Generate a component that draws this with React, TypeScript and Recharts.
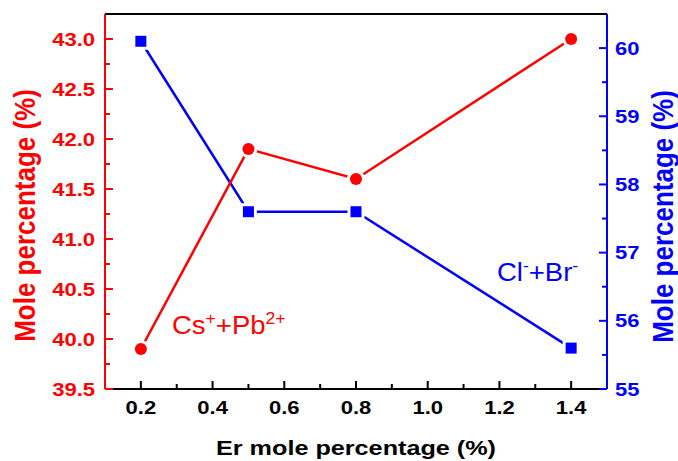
import React from 'react';
import { LineChart, Line, XAxis, YAxis, ReferenceLine } from 'recharts';

const erPercent = [0.2, 0.5, 0.8, 1.4];
const csPbValues = [39.9, 41.9, 41.6, 43.0];
const clBrValues = [60.1, 57.6, 57.6, 55.6];

const xMajorTicks = [0.2, 0.4, 0.6, 0.8, 1.0, 1.2, 1.4];
const xMinorTicks = [0.3, 0.5, 0.7, 0.9, 1.1, 1.3];
const leftMajorTicks = [39.5, 40.0, 40.5, 41.0, 41.5, 42.0, 42.5, 43.0];
const leftMinorTicks = [39.75, 40.25, 40.75, 41.25, 41.75, 42.25, 42.75];
const rightMajorTicks = [55, 56, 57, 58, 59, 60];
const rightMinorTicks = [55.5, 56.5, 57.5, 58.5, 59.5];

const xDomain = [0.1, 1.5];
const leftDomain = [39.5, 43.25];
const rightDomain = [55, 60.5];

const RED = '#FF0000';
const BLUE = '#0000FF';
const FONT = '"Liberation Sans", Arial, sans-serif';
const SX = 1.19;

const data = erPercent.map((er, i) => ({ er, csPb: csPbValues[i], clBr: clBrValues[i] }));

const isMajor = (list: number[], v: number) => list.some((t) => Math.abs(t - v) < 1e-6);

const XTick = (props: any) => {
  const { x, y, payload } = props;
  const major = isMajor(xMajorTicks, payload.value);
  return (
    <g>
      <line x1={x} x2={x} y1={y} y2={y - (major ? 8 : 5)} stroke="#000" strokeWidth={2} />
      {major && (
        <text
          transform={`translate(${x},${y + 24.5}) scale(${SX},1)`}
          textAnchor="middle"
          fontFamily={FONT}
          fontWeight="bold"
          fontSize={18.5}
          fill="#000"
        >
          {Number(payload.value).toFixed(1)}
        </text>
      )}
    </g>
  );
};

const LeftTick = (props: any) => {
  const { x, y, payload } = props;
  const major = isMajor(leftMajorTicks, payload.value);
  return (
    <g>
      <line x1={x} x2={x + (major ? 8 : 5)} y1={y} y2={y} stroke={RED} strokeWidth={2} />
      {major && (
        <text
          transform={`translate(${x - 10},${y + 6.7}) scale(${SX},1)`}
          textAnchor="end"
          fontFamily={FONT}
          fontWeight="bold"
          fontSize={18.5}
          fill={RED}
        >
          {Number(payload.value).toFixed(1)}
        </text>
      )}
    </g>
  );
};

const RightTick = (props: any) => {
  const { x, y, payload } = props;
  const major = isMajor(rightMajorTicks, payload.value);
  return (
    <g>
      <line x1={x} x2={x - (major ? 8 : 5)} y1={y} y2={y} stroke={BLUE} strokeWidth={2} />
      {major && (
        <text
          transform={`translate(${x + 8},${y + 6.5}) scale(${SX},1)`}
          textAnchor="start"
          fontFamily={FONT}
          fontWeight="bold"
          fontSize={18.5}
          fill={BLUE}
        >
          {Number(payload.value).toFixed(0)}
        </text>
      )}
    </g>
  );
};

const RedDot = (props: any) => {
  const { cx, cy, index } = props;
  return (
    <g key={`r${index}`}>
      <circle cx={cx} cy={cy} r={9} fill="#fff" />
      <circle cx={cx} cy={cy} r={6} fill={RED} />
    </g>
  );
};

const BlueDot = (props: any) => {
  const { cx, cy, index } = props;
  return (
    <g key={`b${index}`}>
      <rect x={cx - 8.5} y={cy - 8.5} width={17} height={17} fill="#fff" />
      <rect x={cx - 5.5} y={cy - 5.5} width={11} height={11} fill={BLUE} />
    </g>
  );
};

export default function App() {
  const W = 678;
  const H = 461;
  return (
    <div style={{ position: 'absolute', left: 0, top: 0, width: W, height: H, background: '#fff' }}>
      <LineChart width={W} height={H} data={data} margin={{ top: 14, right: 0, bottom: 0, left: 0 }}>
        <XAxis
          dataKey="er"
          type="number"
          domain={xDomain}
          ticks={[...xMajorTicks, ...xMinorTicks].sort((a, b) => a - b)}
          interval={0}
          allowDataOverflow
          height={72}
          tickSize={0}
          tickMargin={0}
          tickLine={false}
          axisLine={{ stroke: '#000', strokeWidth: 2 }}
          tick={(p: any) => <XTick {...p} />}
        />
        <YAxis
          yAxisId="left"
          orientation="left"
          type="number"
          domain={leftDomain}
          ticks={[...leftMajorTicks, ...leftMinorTicks].sort((a, b) => a - b)}
          interval={0}
          allowDataOverflow
          width={105}
          tickSize={0}
          tickMargin={0}
          tickLine={false}
          axisLine={{ stroke: RED, strokeWidth: 2 }}
          tick={(p: any) => <LeftTick {...p} />}
        />
        <YAxis
          yAxisId="right"
          orientation="right"
          type="number"
          domain={rightDomain}
          ticks={[...rightMajorTicks, ...rightMinorTicks].sort((a, b) => a - b)}
          interval={0}
          allowDataOverflow
          width={71}
          tickSize={0}
          tickMargin={0}
          tickLine={false}
          axisLine={{ stroke: BLUE, strokeWidth: 2 }}
          tick={(p: any) => <RightTick {...p} />}
        />
        <ReferenceLine yAxisId="left" y={leftDomain[1]} stroke="#000" strokeWidth={2} />
        <Line
          yAxisId="right"
          dataKey="clBr"
          stroke={BLUE}
          strokeWidth={2.5}
          dot={(p: any) => <BlueDot {...p} key={`b${p.index}`} />}
          isAnimationActive={false}
        />
        <Line
          yAxisId="left"
          dataKey="csPb"
          stroke={RED}
          strokeWidth={2.5}
          dot={(p: any) => <RedDot {...p} key={`r${p.index}`} />}
          isAnimationActive={false}
        />
      </LineChart>
      <svg
        width={W}
        height={H}
        style={{ position: 'absolute', left: 0, top: 0, pointerEvents: 'none' }}
        fontFamily={FONT}
      >
        <text
          transform={`translate(35,215.5) scale(1.17,1) rotate(-90)`}
          textAnchor="middle"
          fontSize={26}
          fontWeight="bold"
          fill={RED}
        >
          Mole percentage (%)
        </text>
        <text
          transform={`translate(673,216.5) scale(1.17,1) rotate(-90)`}
          textAnchor="middle"
          fontSize={26}
          fontWeight="bold"
          fill={BLUE}
        >
          Mole percentage (%)
        </text>
        <text
          transform={`translate(356,455) scale(1.2,1)`}
          textAnchor="middle"
          fontSize={21}
          fontWeight="bold"
          fill="#000"
        >
          Er mole percentage (%)
        </text>
        <text transform={`translate(172,334) scale(1.1,1)`} fontSize={25} fill={RED}>
          Cs
          <tspan fontSize={16} dy={-10}>+</tspan>
          <tspan dy={10}>+Pb</tspan>
          <tspan fontSize={16} dy={-10}>2+</tspan>
        </text>
        <text transform={`translate(497,281) scale(1.1,1)`} fontSize={25} fill={BLUE}>
          Cl
          <tspan fontSize={16} dy={-10}>-</tspan>
          <tspan dy={10}>+Br</tspan>
          <tspan fontSize={16} dy={-10}>-</tspan>
        </text>
      </svg>
    </div>
  );
}
